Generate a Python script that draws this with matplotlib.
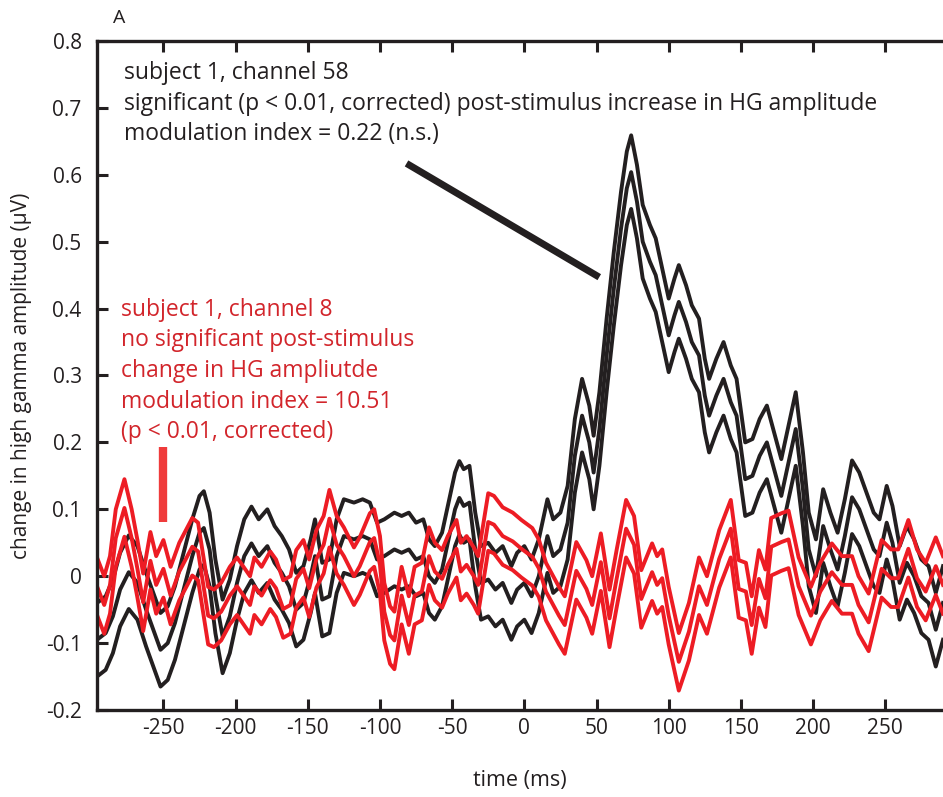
import numpy as np
import matplotlib
matplotlib.use('Agg')
import matplotlib.pyplot as plt

plt.rcParams['font.family'] = ['Open Sans', 'DejaVu Sans']
plt.rcParams['axes.unicode_minus'] = False

# channel 58 (black): mean trace and standard error
black_t = [-296, -290, -285, -280, -274, -268, -262, -257, -252, -247, -242, -236, -230, -225, -222,
           -218, -214, -209, -204, -199, -194, -189, -184, -178, -173, -168, -163, -158, -153, -148,
           -145, -140, -135, -130, -125, -118, -112, -107, -102, -97, -90, -85, -80, -75, -70, -66,
           -62, -57, -52, -48, -45, -42, -38, -34, -30, -25, -20, -15, -9, -5, 0, 5, 10, 16, 20, 25,
           30, 35, 40, 45, 48, 52, 57, 62, 67, 71, 74, 78, 82, 87, 91, 96, 100, 104, 107, 112, 116,
           121, 125, 128, 133, 138, 143, 147, 153, 158, 163, 168, 173, 178, 183, 188, 193, 197, 202,
           207, 212, 217, 222, 227, 232, 237, 242, 246, 251, 255, 260, 265, 270, 275, 280, 285, 290]
black_mean = [-0.095, -0.085, -0.06, -0.02, 0.006, -0.01, -0.05, -0.08, -0.11, -0.10, -0.07, -0.02,
              0.03, 0.065, 0.072, 0.04, -0.03, -0.09, -0.06, -0.01, 0.03, 0.049, 0.03, 0.045, 0.02,
              0.005, -0.015, -0.05, -0.04, 0.0, 0.03, -0.035, -0.03, 0.03, 0.06, 0.055, 0.06, 0.055,
              0.025, 0.03, 0.04, 0.035, 0.04, 0.025, 0.03, 0.0, -0.01, 0.01, 0.06, 0.10, 0.117, 0.105,
              0.11, 0.04, -0.01, -0.005, -0.02, -0.01, -0.04, -0.02, -0.01, -0.03, 0.0, 0.06, 0.03,
              0.04, 0.08, 0.18, 0.24, 0.20, 0.155, 0.22, 0.33, 0.43, 0.52, 0.58, 0.604, 0.56, 0.50,
              0.47, 0.45, 0.40, 0.36, 0.39, 0.41, 0.38, 0.35, 0.33, 0.27, 0.24, 0.27, 0.295, 0.26,
              0.24, 0.145, 0.15, 0.18, 0.20, 0.16, 0.12, 0.17, 0.22, 0.13, 0.04, 0.0, 0.075, 0.04,
              0.01, 0.06, 0.118, 0.10, 0.07, 0.04, 0.03, 0.08, 0.05, -0.01, 0.02, 0.0, -0.03, -0.04,
              -0.08, -0.04]
black_se = 0.055

# channel 8 (red): mean trace and standard error
red_t = [-296, -291, -287, -283, -277, -272, -268, -264, -259, -255, -250, -245, -239, -230, -226,
         -219, -215, -210, -204, -199, -190, -187, -182, -176, -172, -167, -162, -158, -153, -149,
         -144, -139, -135, -130, -125, -118, -114, -107, -104, -100, -97, -93, -90, -85, -80, -76,
         -71, -66, -62, -57, -53, -47, -44, -40, -35, -32, -25, -21, -15, -8, -2, 5.5, 10, 15, 24,
         28, 36, 43, 47, 53, 59, 64, 70.5, 76, 81, 88.5, 92, 95.5, 100, 107, 114, 121, 126.5, 135,
         143, 148.5, 153.5, 157.5, 162.5, 167, 171, 178, 183, 190, 198.5, 205, 213, 220, 227, 231.5,
         238.5, 247.5, 254, 259, 266, 272, 278, 285, 290]
red_mean = [-0.015, -0.043, -0.013, 0.057, 0.102, 0.057, 0.011, -0.039, 0.023, -0.013, 0.011, -0.029,
            0.007, 0.044, 0.037, -0.059, -0.063, -0.053, -0.029, -0.015, -0.043, -0.015, -0.029,
            -0.006, -0.018, -0.049, -0.043, -0.004, 0.011, -0.018, 0.026, 0.047, 0.086, 0.047, 0.030,
            0.000, 0.015, 0.051, 0.057, 0.017, -0.053, -0.088, -0.096, -0.029, -0.073, -0.029, -0.023,
            0.030, 0.007, -0.004, 0.017, 0.041, 0.007, 0.017, 0.000, -0.013, 0.081, 0.077, 0.060,
            0.052, 0.041, 0.029, 0.012, -0.023, -0.059, -0.073, 0.008, -0.019, -0.043, 0.021, -0.063,
            -0.003, 0.071, 0.047, -0.034, 0.006, -0.013, -0.003, -0.059, -0.128, -0.083, -0.015,
            -0.043, 0.026, 0.071, -0.019, -0.023, -0.073, -0.004, -0.033, 0.044, 0.051, 0.055, -0.015,
            -0.059, -0.023, 0.006, -0.013, -0.013, -0.043, -0.069, 0.011, -0.003, -0.003, 0.041,
            -0.003, -0.023, 0.015, -0.013]
red_se = 0.043

xticks = [-250, -200, -150, -100, -50, 0, 50, 100, 150, 200, 250]
yticks = [-0.2, -0.1, 0, 0.1, 0.2, 0.3, 0.4, 0.5, 0.6, 0.7, 0.8]
ytick_labels = ['-0.2', '-0.1', '0', '0.1', '0.2', '0.3', '0.4', '0.5', '0.6', '0.7', '0.8']

black_text = ['subject 1, channel 58',
              'significant (p < 0.01, corrected) post-stimulus increase in HG amplitude',
              'modulation index = 0.22 (n.s.)']
red_text = ['subject 1, channel 8',
            'no significant post-stimulus',
            'change in HG ampliutde',
            'modulation index = 10.51',
            '(p < 0.01, corrected)']

BLACK = '#231f20'
RED = '#ed1c24'
TEXT_RED = '#d2252b'
W, H = 943, 797

fig = plt.figure(figsize=(W / 100, H / 100), dpi=100)
ax = fig.add_axes([97 / W, 1 - 710 / H, 1 - 97 / W, (710 - 41) / H])

bm = np.array(black_mean)
rm = np.array(red_mean)
for k in (1, 0, -1):
    ax.plot(black_t, bm + k * black_se, color=BLACK, lw=2.8, solid_joinstyle='round')
for k in (1, 0, -1):
    ax.plot(red_t, rm + k * red_se, color=RED, lw=2.8, solid_joinstyle='round')

# red scale bar and pointer line
ax.plot([-250, -250], [0.081, 0.193], color='#ef3b3b', lw=6, solid_capstyle='butt')
ax.plot([-81.6, 51.9], [0.617, 0.447], color=BLACK, lw=5, solid_capstyle='butt')

ax.set_xlim(-296, 290)
ax.set_ylim(-0.2, 0.8)
ax.set_xticks(xticks)
ax.set_yticks(yticks)
ax.set_yticklabels(ytick_labels)
ax.tick_params(direction='in', length=8, width=2.2, labelsize=15, top=True, pad=6, colors=BLACK)
ax.tick_params(axis='y', pad=11)
ax.spines['right'].set_visible(False)
for s in ('left', 'top', 'bottom'):
    ax.spines[s].set_linewidth(2.4)
    ax.spines[s].set_color(BLACK)

ax.set_xlabel('time (ms)', fontsize=15.5, labelpad=22, color=BLACK)
ax.set_ylabel('change in high gamma amplitude (μV)', fontsize=15, labelpad=10, color=BLACK)

fig.text(113 / W, 1 - 18 / H, 'A', fontsize=14, va='center', color=BLACK)
for i, line in enumerate(black_text):
    fig.text(124 / W, 1 - (73 + 30.5 * i) / H, line, fontsize=16.5, va='center', color=BLACK)
for i, line in enumerate(red_text):
    fig.text(121 / W, 1 - (310 + 30.5 * i) / H, line, fontsize=16.5, va='center', color=TEXT_RED)

fig.savefig('out.png', dpi=100)
